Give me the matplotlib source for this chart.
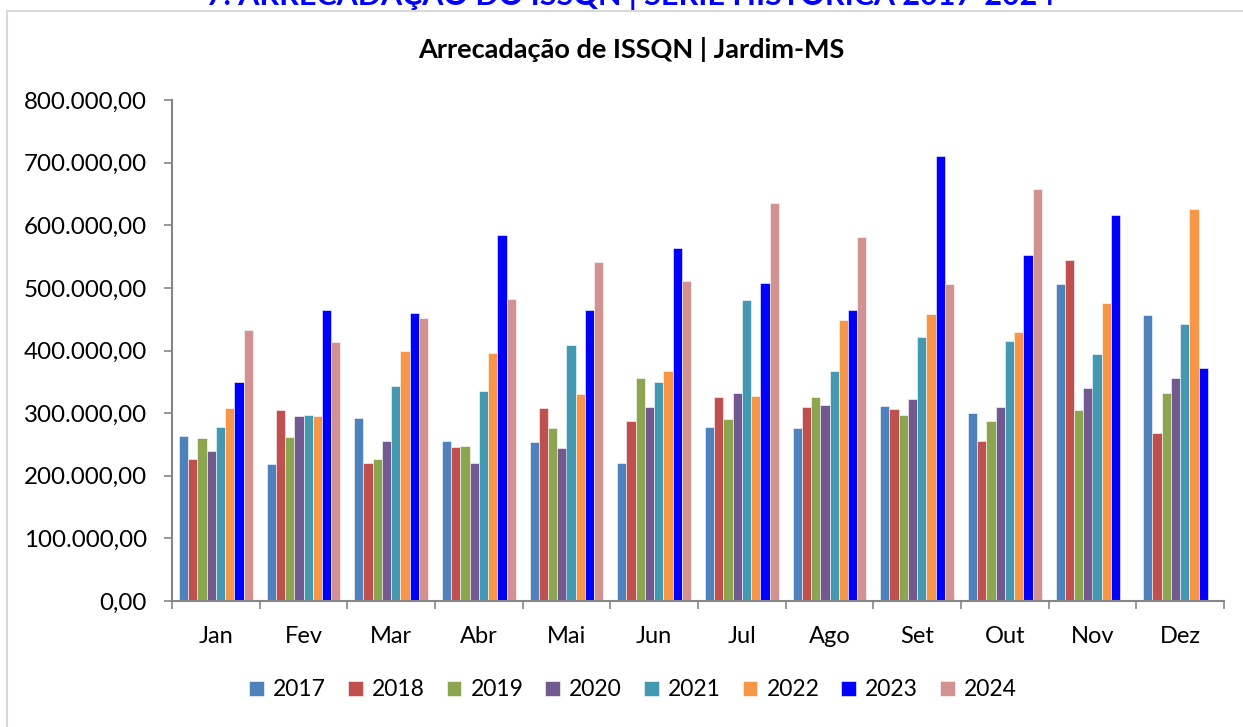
import matplotlib
matplotlib.use("Agg")
import matplotlib.pyplot as plt
from matplotlib.patches import Rectangle
from matplotlib.ticker import FuncFormatter, FixedLocator
import numpy as np

plt.rcParams['font.family'] = ['Lato', 'DejaVu Sans']

months = ["Jan", "Fev", "Mar", "Abr", "Mai", "Jun", "Jul", "Ago", "Set", "Out", "Nov", "Dez"]
years = ["2017", "2018", "2019", "2020", "2021", "2022", "2023", "2024"]

v2017 = [263600, 219000, 292000, 256000, 254000, 221000, 278000, 277000, 311000, 300000, 506000, 456000]
v2018 = [226000, 305000, 221000, 246000, 308000, 287000, 326000, 310000, 307000, 255000, 545000, 268000]
v2019 = [260000, 262000, 226000, 248000, 276000, 356000, 291000, 325000, 297000, 288000, 305000, 332000]
v2020 = [239000, 296000, 255000, 220000, 244000, 310000, 332000, 313000, 322000, 310000, 340000, 356000]
v2021 = [278000, 297000, 344000, 335000, 408000, 350000, 481000, 368000, 422000, 415000, 395000, 443000]
v2022 = [308000, 296000, 399000, 396000, 331000, 367000, 327000, 449000, 458000, 430000, 476000, 626000]
v2023 = [349000, 464000, 460000, 584000, 464000, 563000, 508000, 464000, 711000, 553000, 617000, 372000]
v2024 = [433000, 413000, 452000, 482000, 541000, 511000, 635000, 582000, 506000, 658000, 0, 0]

series = [v2017, v2018, v2019, v2020, v2021, v2022, v2023, v2024]
colors = ["#4F81BD", "#C0504D", "#8CA650", "#725A91", "#4299B1", "#F79646", "#0000FF", "#D39292"]

W, H = 1243, 727
fig = plt.figure(figsize=(W / 100, H / 100), dpi=100)

# chart-area border
fig.patches.append(Rectangle((7 / W, -0.05), 1.1, 1 - 11 / H + 0.05, transform=fig.transFigure,
                             fill=False, edgecolor="#D9D9D9", linewidth=1.5))

ax = fig.add_axes([172 / W, 1 - 601 / H, (1224 - 172) / W, (601 - 100) / H])

x = np.arange(len(months))
bw = 0.844 / len(series)
for i, (vals, c, yr) in enumerate(zip(series, colors, years)):
    ax.bar(x + (i - 3.5) * bw, vals, width=bw, color=c, label=yr,
           edgecolor="white", linewidth=0.4)

ax.set_xlim(-0.5, len(months) - 0.5)
ax.set_ylim(0, 800000)
ax.set_yticks(np.arange(0, 800001, 100000))
ax.yaxis.set_major_formatter(FuncFormatter(
    lambda v, p: f"{v:,.2f}".replace(",", "X").replace(".", ",").replace("X", ".")))

ax.xaxis.set_major_locator(FixedLocator(np.arange(-0.5, len(months), 1.0)))
ax.xaxis.set_minor_locator(FixedLocator(x))
ax.set_xticklabels([], minor=False)
ax.set_xticks(x, minor=True)
ax.set_xticklabels(months, minor=True)
ax.tick_params(axis="x", which="major", length=6, width=1.2, color="#868686", direction="out")
ax.tick_params(axis="x", which="minor", length=0, pad=18, labelsize=17)
ax.tick_params(axis="y", length=6, width=1.2, color="#868686", direction="out", pad=12, labelsize=17.4)

for s in ["top", "right"]:
    ax.spines[s].set_visible(False)
for s in ["left", "bottom"]:
    ax.spines[s].set_color("#868686")
    ax.spines[s].set_linewidth(1.5)

fig.text(631 / W, 1 - 50 / H, "Arrecadação de ISSQN | Jardim-MS", ha="center", va="center",
         fontsize=19.5, fontweight="bold")

# heading that the source image cuts off at its top edge
fig.text(631 / W, 1 - 5 / H, "7. ARRECADAÇÃO DO ISSQN | SÉRIE HISTÓRICA 2017-2024",
         ha="center", va="baseline", fontsize=22, fontweight="bold", color="#0000FF")

fig.legend(loc="center", bbox_to_anchor=(633 / W, 1 - 690 / H), ncol=8, frameon=False,
           fontsize=16.5, handlelength=0.65, handleheight=0.65, handletextpad=0.4,
           columnspacing=0.95)

fig.savefig("out.png", dpi=100)
